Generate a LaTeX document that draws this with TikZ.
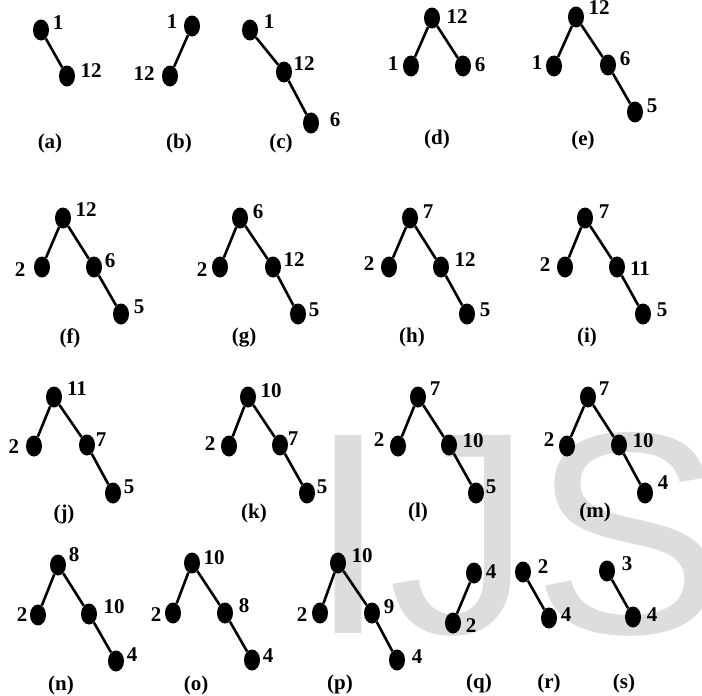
\documentclass[tikz,border=0pt]{standalone}
\usepackage{fontspec}
\setmainfont{Liberation Serif}
\newfontfamily\wmfont{Liberation Sans}
\usetikzlibrary{shapes.geometric}
\definecolor{wmgray}{RGB}{221,221,221}
\tikzset{
  dot/.style={ellipse,fill=black,inner sep=0pt,minimum width=16pt,minimum height=21pt},
  br/.style={line width=2.6pt,draw=black},
  lab/.style={font=\fontsize{21}{21}\selectfont\bfseries,inner sep=0pt},
  sub/.style={font=\fontsize{21}{21}\selectfont\bfseries,inner sep=0pt},
  wm/.style={font=\wmfont\fontsize{288}{288}\selectfont,text=wmgray,inner sep=0pt,anchor=base west}
}
\begin{document}
\begin{tikzpicture}[x=1pt,y=-1pt]
  \useasboundingbox (0,0) rectangle (702,696);
  \begin{scope}
    \clip (0,0) rectangle (702,696);
    \node[wm] (mark) at (308,633) {IJS};
  \end{scope}
  % (a)
  \node[dot] (a1) at (41,30) {};
  \node[dot] (a2) at (67,76) {};
  \draw[br] (a1)--(a2);
  \node[lab] (la1) at (58,23) {1};
  \node[lab] (la2) at (91,71) {12};
  \node[sub] (sa) at (50,143) {(a)};
  % (b)
  \node[dot] (b1) at (192,26) {};
  \node[dot] (b2) at (170,76) {};
  \draw[br] (b1)--(b2);
  \node[lab] (lb1) at (172,22) {1};
  \node[lab] (lb2) at (144,74) {12};
  \node[sub] (sb) at (179,143) {(b)};
  % (c)
  \node[dot] (c1) at (250,30) {};
  \node[dot] (c2) at (284,72) {};
  \node[dot] (c3) at (311,123) {};
  \draw[br] (c1)--(c2)--(c3);
  \node[lab] (lc1) at (269,22) {1};
  \node[lab] (lc2) at (304,64) {12};
  \node[lab] (lc3) at (335,120) {6};
  \node[sub] (sc) at (281,143) {(c)};
  % (d)
  \node[dot] (d1) at (432,18) {};
  \node[dot] (d2) at (411,66) {};
  \node[dot] (d3) at (463,66) {};
  \draw[br] (d2)--(d1)--(d3);
  \node[lab] (ld1) at (457,17) {12};
  \node[lab] (ld2) at (393,64) {1};
  \node[lab] (ld3) at (480,65) {6};
  \node[sub] (sd) at (437,139) {(d)};
  % (e)
  \node[dot] (e1) at (576,17) {};
  \node[dot] (e2) at (554,66) {};
  \node[dot] (e3) at (608,65) {};
  \node[dot] (e4) at (635,112) {};
  \draw[br] (e2)--(e1)--(e3)--(e4);
  \node[lab] (le1) at (599,8) {12};
  \node[lab] (le2) at (537,63) {1};
  \node[lab] (le3) at (625,59) {6};
  \node[lab] (le4) at (652,106) {5};
  \node[sub] (se) at (583,140) {(e)};
  % (f)
  \node[dot] (f1) at (63,218) {};
  \node[dot] (f2) at (42,267) {};
  \node[dot] (f3) at (94,267) {};
  \node[dot] (f4) at (121,314) {};
  \draw[br] (f2)--(f1)--(f3)--(f4);
  \node[lab] (lf1) at (86,210) {12};
  \node[lab] (lf2) at (20,270) {2};
  \node[lab] (lf3) at (110,261) {6};
  \node[lab] (lf4) at (139,307) {5};
  \node[sub] (sf) at (70,338) {(f)};
  % (g)
  \node[dot] (g1) at (240,218) {};
  \node[dot] (g2) at (220,267) {};
  \node[dot] (g3) at (273,267) {};
  \node[dot] (g4) at (298,314) {};
  \draw[br] (g2)--(g1)--(g3)--(g4);
  \node[lab] (lg1) at (258,212) {6};
  \node[lab] (lg2) at (202,270) {2};
  \node[lab] (lg3) at (294,260) {12};
  \node[lab] (lg4) at (314,310) {5};
  \node[sub] (sg) at (244,338) {(g)};
  % (h)
  \node[dot] (h1) at (410,218) {};
  \node[dot] (h2) at (389,267) {};
  \node[dot] (h3) at (441,267) {};
  \node[dot] (h4) at (467,314) {};
  \draw[br] (h2)--(h1)--(h3)--(h4);
  \node[lab] (lh1) at (428,212) {7};
  \node[lab] (lh2) at (369,264) {2};
  \node[lab] (lh3) at (465,260) {12};
  \node[lab] (lh4) at (485,310) {5};
  \node[sub] (sh) at (412,337) {(h)};
  % (i)
  \node[dot] (i1) at (585,218) {};
  \node[dot] (i2) at (565,267) {};
  \node[dot] (i3) at (617,267) {};
  \node[dot] (i4) at (643,314) {};
  \draw[br] (i2)--(i1)--(i3)--(i4);
  \node[lab] (li1) at (604,212) {7};
  \node[lab] (li2) at (545,265) {2};
  \node[lab] (li3) at (640,269) {11};
  \node[lab] (li4) at (662,310) {5};
  \node[sub] (si) at (587,337) {(i)};
  % (j)
  \node[dot] (j1) at (54,397) {};
  \node[dot] (j2) at (34,446) {};
  \node[dot] (j3) at (87,445) {};
  \node[dot] (j4) at (113,493) {};
  \draw[br] (j2)--(j1)--(j3)--(j4);
  \node[lab] (lj1) at (77,389) {11};
  \node[lab] (lj2) at (14,447) {2};
  \node[lab] (lj3) at (101,440) {7};
  \node[lab] (lj4) at (129,487) {5};
  \node[sub] (sj) at (64,514) {(j)};
  % (k)
  \node[dot] (k1) at (248,397) {};
  \node[dot] (k2) at (229,446) {};
  \node[dot] (k3) at (280,445) {};
  \node[dot] (k4) at (307,493) {};
  \draw[br] (k2)--(k1)--(k3)--(k4);
  \node[lab] (lk1) at (271,391) {10};
  \node[lab] (lk2) at (210,444) {2};
  \node[lab] (lk3) at (293,439) {7};
  \node[lab] (lk4) at (322,487) {5};
  \node[sub] (sk) at (254,513) {(k)};
  % (l)
  \node[dot] (l1) at (418,397) {};
  \node[dot] (l2) at (398,446) {};
  \node[dot] (l3) at (449,445) {};
  \node[dot] (l4) at (476,493) {};
  \draw[br] (l2)--(l1)--(l3)--(l4);
  \node[lab] (ll1) at (435,389) {7};
  \node[lab] (ll2) at (379,440) {2};
  \node[lab] (ll3) at (473,441) {10};
  \node[lab] (ll4) at (491,487) {5};
  \node[sub] (sl) at (418,512) {(l)};
  % (m)
  \node[dot] (m1) at (588,397) {};
  \node[dot] (m2) at (567,446) {};
  \node[dot] (m3) at (619,445) {};
  \node[dot] (m4) at (645,493) {};
  \draw[br] (m2)--(m1)--(m3)--(m4);
  \node[lab] (lm1) at (604,389) {7};
  \node[lab] (lm2) at (549,440) {2};
  \node[lab] (lm3) at (643,441) {10};
  \node[lab] (lm4) at (663,483) {4};
  \node[sub] (sm) at (595,512) {(m)};
  % (n)
  \node[dot] (n1) at (58,565) {};
  \node[dot] (n2) at (38,615) {};
  \node[dot] (n3) at (89,614) {};
  \node[dot] (n4) at (116,661) {};
  \draw[br] (n2)--(n1)--(n3)--(n4);
  \node[lab] (ln1) at (74,555) {8};
  \node[lab] (ln2) at (22,615) {2};
  \node[lab] (ln3) at (114,607) {10};
  \node[lab] (ln4) at (132,655) {4};
  \node[sub] (sn) at (61,685) {(n)};
  % (o)
  \node[dot] (o1) at (192,563) {};
  \node[dot] (o2) at (173,613) {};
  \node[dot] (o3) at (225,613) {};
  \node[dot] (o4) at (252,660) {};
  \draw[br] (o2)--(o1)--(o3)--(o4);
  \node[lab] (lo1) at (214,558) {10};
  \node[lab] (lo2) at (156,615) {2};
  \node[lab] (lo3) at (244,606) {8};
  \node[lab] (lo4) at (268,656) {4};
  \node[sub] (so) at (196,685) {(o)};
  % (p)
  \node[dot] (p1) at (338,563) {};
  \node[dot] (p2) at (320,613) {};
  \node[dot] (p3) at (372,613) {};
  \node[dot] (p4) at (397,660) {};
  \draw[br] (p2)--(p1)--(p3)--(p4);
  \node[lab] (lp1) at (362,556) {10};
  \node[lab] (lp2) at (302,615) {2};
  \node[lab] (lp3) at (389,607) {9};
  \node[lab] (lp4) at (417,657) {4};
  \node[sub] (sp) at (340,684) {(p)};
  % (q)
  \node[dot] (q1) at (474,573) {};
  \node[dot] (q2) at (453,623) {};
  \draw[br] (q1)--(q2);
  \node[lab] (lq1) at (491,572) {4};
  \node[lab] (lq2) at (471,626) {2};
  \node[sub] (sq) at (479,683) {(q)};
  % (r)
  \node[dot] (r1) at (523,572) {};
  \node[dot] (r2) at (549,618) {};
  \draw[br] (r1)--(r2);
  \node[lab] (lr1) at (543,567) {2};
  \node[lab] (lr2) at (566,615) {4};
  \node[sub] (sr) at (549,683) {(r)};
  % (s)
  \node[dot] (s1) at (607,571) {};
  \node[dot] (s2) at (633,617) {};
  \draw[br] (s1)--(s2);
  \node[lab] (ls1) at (627,564) {3};
  \node[lab] (ls2) at (652,615) {4};
  \node[sub] (ss) at (624,683) {(s)};
\end{tikzpicture}
\end{document}
